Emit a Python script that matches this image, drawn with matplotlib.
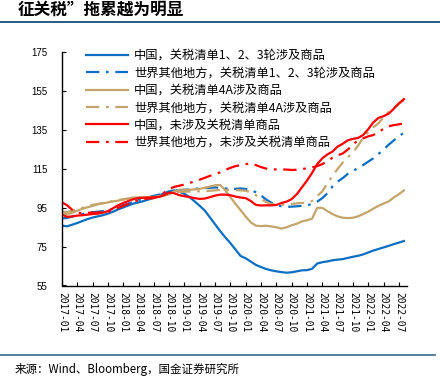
import numpy as np
import matplotlib
matplotlib.use("Agg")
import matplotlib.pyplot as plt
from matplotlib.lines import Line2D

plt.rcParams['font.family'] = ['Noto Sans CJK SC', 'DejaVu Sans']

# monthly index values, 2017-01 .. 2022-08
china_13 = [85.8, 85.5, 86.3, 87.2, 88.2, 89.2, 90.0, 90.6, 91.2, 92.0,
            93.0, 94.2, 95.2, 96.2, 97.2, 97.8, 98.5, 99.3, 100.2, 101.3,
            102.5, 103.5, 104.0, 103.3, 102.2, 100.5, 98.3, 96.0, 93.5, 90.0,
            86.5, 83.0, 79.8, 76.8, 73.5, 70.2, 69.0, 67.3, 65.6, 64.5,
            63.5, 62.8, 62.3, 61.9, 61.6, 61.8, 62.3, 62.8, 62.9, 63.6,
            66.3, 67.0, 67.4, 68.0, 68.3, 68.6, 69.2, 69.8, 70.3, 71.0,
            72.0, 73.0, 73.8, 74.6, 75.4, 76.3, 77.1, 77.9]
row_13 = [89.5, 89.8, 90.5, 91.3, 91.8, 92.3, 92.8, 93.0, 93.3, 93.8,
          94.5, 95.5, 96.3, 97.2, 98.0, 99.0, 99.8, 100.5, 101.2, 101.8,
          102.5, 103.3, 103.8, 104.2, 104.3, 104.5, 104.8, 105.0, 105.2, 105.3,
          105.5, 105.3, 105.0, 104.8, 104.8, 105.0, 104.7, 104.2, 103.0, 101.3,
          99.3, 97.7, 96.5, 95.8, 95.5, 95.6, 95.8, 96.0, 96.3, 97.0,
          98.2, 100.0, 102.5, 106.0, 108.5, 110.3, 112.5, 114.0, 115.5, 117.0,
          118.8, 120.5, 122.7, 125.0, 127.5, 129.7, 131.7, 133.8]
china_4a = [93.3, 91.5, 92.5, 93.5, 94.5, 95.3, 96.0, 96.8, 97.3, 97.8,
            98.3, 98.7, 99.2, 99.8, 100.3, 100.4, 100.4, 100.4, 100.5, 100.8,
            101.2, 102.0, 103.5, 104.3, 104.3, 104.3, 104.5, 104.8, 105.3, 106.0,
            106.6, 106.8, 104.0, 100.5, 97.0, 93.8, 90.5, 87.5, 85.8, 85.6,
            85.8, 85.4, 85.0, 84.3, 85.0, 86.0, 86.8, 88.0, 88.6, 89.4,
            95.0, 95.0, 93.3, 91.8, 90.6, 89.9, 89.7, 89.9, 90.6, 91.8,
            93.0, 94.6, 96.0, 97.2, 98.3, 100.3, 102.0, 104.0]
row_4a = [93.0, 92.8, 93.5, 94.3, 95.0, 95.8, 96.5, 97.0, 97.5, 98.0,
          98.5, 99.0, 99.5, 99.7, 99.8, 100.0, 100.2, 100.4, 100.6, 101.0,
          101.6, 102.2, 102.8, 103.2, 103.3, 103.4, 103.5, 103.5, 103.6, 103.8,
          104.0, 104.2, 104.3, 104.3, 104.2, 104.0, 103.8, 103.0, 101.5, 99.5,
          98.0, 97.0, 96.5, 96.5, 96.8, 97.0, 97.3, 97.5, 97.7, 98.5,
          101.0, 103.5, 107.5, 111.5, 115.0, 118.3, 121.0, 123.5, 127.0, 131.0,
          134.0, 136.5, 138.5, 141.5, 144.5, 146.5, 148.5, 150.5]
china_other = [91.6, 90.3, 90.6, 91.0, 91.2, 91.5, 91.8, 92.0, 92.5, 93.3,
               94.8, 96.3, 97.5, 98.5, 99.5, 100.0, 100.2, 100.3, 100.4, 100.6,
               101.5, 102.8, 102.5, 101.5, 101.0, 100.5, 100.0, 99.6, 99.8, 100.5,
               101.3, 101.8, 101.8, 101.5, 100.8, 100.3, 100.0, 98.5, 96.5, 96.2,
               96.3, 96.3, 96.5, 97.5, 98.2, 99.5, 102.0, 105.5, 109.0, 113.0,
               117.5, 120.5, 122.5, 124.0, 126.5, 128.0, 129.8, 130.5, 131.0, 132.5,
               135.5, 139.0, 141.3, 142.2, 143.5, 146.0, 148.8, 151.0]
row_other = [97.8, 96.3, 94.0, 92.5, 92.3, 92.5, 92.5, 92.6, 92.8, 93.0,
             93.8, 95.0, 96.0, 97.0, 98.2, 99.0, 99.5, 99.8, 100.0, 101.0,
             102.8, 104.8, 105.8, 106.4, 107.0, 107.8, 108.6, 109.5, 110.5, 111.5,
             112.3, 113.3, 114.5, 115.6, 116.5, 117.0, 117.5, 117.9, 117.0, 116.0,
             115.2, 114.8, 114.8, 114.8, 114.7, 114.5, 114.6, 115.0, 115.3, 115.8,
             116.5, 117.5, 119.0, 120.8, 122.0, 123.0, 125.0, 127.5, 129.8, 130.8,
             131.8, 132.5, 134.0, 135.7, 137.0, 137.6, 138.0, 138.5]

tick_labels = ['2017-01', '2017-04', '2017-07', '2017-10', '2018-01', '2018-04',
               '2018-07', '2018-10', '2019-01', '2019-04', '2019-07', '2019-10',
               '2020-01', '2020-04', '2020-07', '2020-10', '2021-01', '2021-04',
               '2021-07', '2021-10', '2022-01', '2022-04', '2022-07']

names = ['中国，关税清单1、2、3轮涉及商品',
         '世界其他地方，关税清单1、2、3轮涉及商品',
         '中国，关税清单4A涉及商品',
         '世界其他地方，关税清单4A涉及商品',
         '中国，未涉及关税清单商品',
         '世界其他地方，未涉及关税清单商品']

blue = '#0a6fc2'
tan = '#c4a46a'
red = '#ff0000'
dashdot = (0, (6, 3, 1.2, 3))

fig = plt.figure(figsize=(4.4, 3.76), dpi=100)
ax = fig.add_axes([62 / 440, (376 - 285.5) / 376, (407 - 62) / 440, (285.5 - 52.5) / 376])

x = np.arange(len(china_13))
series = [(china_13, blue, '-'), (row_13, blue, dashdot),
          (china_4a, tan, '-'), (row_4a, tan, dashdot),
          (china_other, red, '-'), (row_other, red, dashdot)]
for (vals, col, ls), name in zip(series, names):
    ax.plot(x, vals, color=col, linestyle=ls, linewidth=1.6, label=name)

ax.set_xlim(0, 67.6)
ax.set_ylim(55, 175)
ax.set_yticks(np.arange(55, 176, 20))
ax.set_xticks(np.arange(0, 67, 3))
ax.set_xticklabels(tick_labels, rotation=-90, family='DejaVu Sans Mono', fontsize=6.9)
for lbl in ax.get_yticklabels():
    lbl.set_family('Liberation Sans')
    lbl.set_fontsize(7)
ax.tick_params(axis='both', direction='in', length=3, width=0.8, color='black')
ax.tick_params(axis='y', pad=10.5)
ax.tick_params(axis='x', pad=5)
for s in ['top', 'right']:
    ax.spines[s].set_visible(False)
for s in ['left', 'bottom']:
    ax.spines[s].set_linewidth(1.0)
    ax.spines[s].set_color('black')

ax.legend(loc='upper left', bbox_to_anchor=(86 / 440, 1 - 49 / 376),
          bbox_transform=fig.transFigure, frameon=False,
          prop={'family': ['Noto Sans CJK SC'], 'size': 8.8},
          handlelength=3.45, handletextpad=0.5, labelspacing=0.36,
          borderpad=0, borderaxespad=0)

# header and footer
fig.text(18 / 440, 1 - 10 / 376, '征关税”拖累越为明显', fontsize=12, fontweight='bold',
         va='center', ha='left')
fig.add_artist(Line2D([0, 1], [1 - 21.7 / 376] * 2, color='#2a5a86', linewidth=1.4,
                      transform=fig.transFigure))
fig.add_artist(Line2D([0, 435 / 440], [1 - 355 / 376] * 2, color='#3a6a8e', linewidth=1.2,
                      transform=fig.transFigure))
fig.text(15 / 440, 1 - 369 / 376, '来源：Wind、Bloomberg，国金证券研究所', fontsize=8.3,
         va='center', ha='left')

fig.savefig('out.png', dpi=100)
